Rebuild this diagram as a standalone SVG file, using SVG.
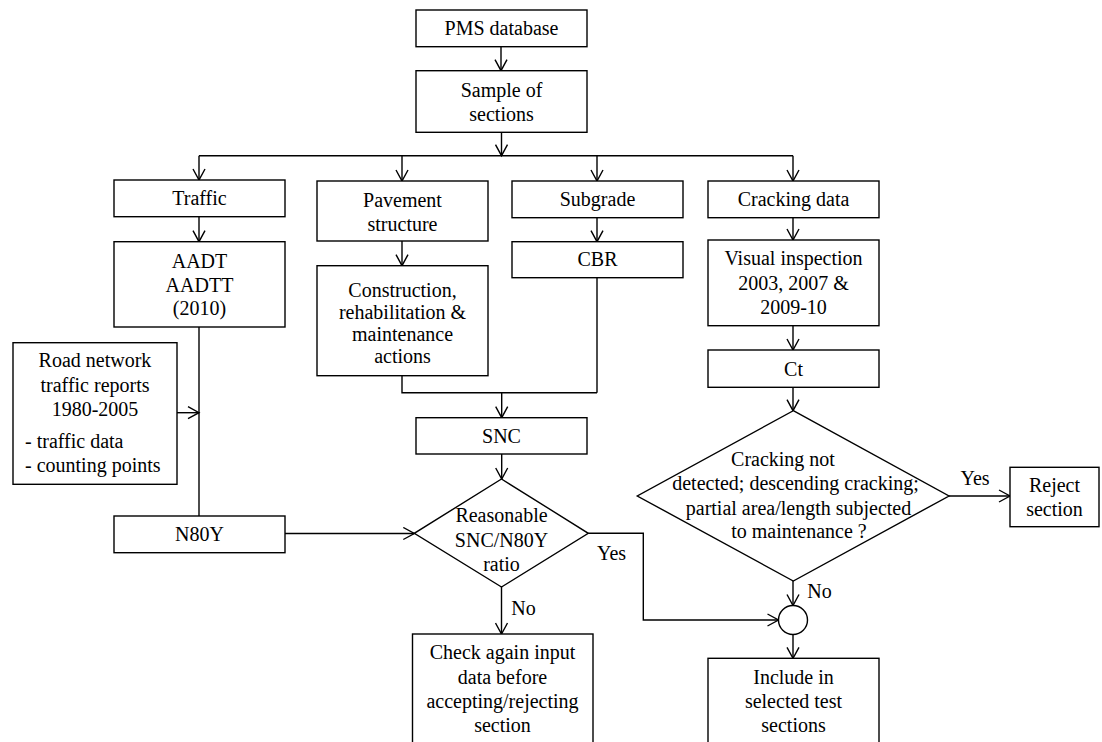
<svg xmlns="http://www.w3.org/2000/svg" width="1102" height="742" viewBox="0 0 1102 742">
<defs>
<style>
.box{fill:#fff;stroke:#000;stroke-width:1.4}
.ln{fill:none;stroke:#000;stroke-width:1.4}
text{font-family:"Liberation Serif","Times New Roman",serif;font-size:20px;fill:#000;text-anchor:middle}
.l{text-anchor:start}
</style>
<marker id="ah" markerUnits="userSpaceOnUse" markerWidth="14" markerHeight="14" viewBox="-12 -7 14 14" refX="0" refY="0" orient="auto">
<path d="M-11,-6 L0,0 L-11,6" fill="none" stroke="#000" stroke-width="1.4"/>
</marker>
</defs>
<rect width="1102" height="742" fill="#fff"/>
<g id="connectors">
<path class="ln" d="M501,46.7 V70.7" marker-end="url(#ah)"/>
<path class="ln" d="M501.5,132.3 V155.7" marker-end="url(#ah)"/>
<path class="ln" d="M199,155.7 H793"/>
<path class="ln" d="M199,155.7 V180" marker-end="url(#ah)"/>
<path class="ln" d="M402,155.7 V181" marker-end="url(#ah)"/>
<path class="ln" d="M597,155.7 V181" marker-end="url(#ah)"/>
<path class="ln" d="M793,155.7 V181" marker-end="url(#ah)"/>
<path class="ln" d="M199,216.7 V241.7" marker-end="url(#ah)"/>
<path class="ln" d="M402,241 V265.7" marker-end="url(#ah)"/>
<path class="ln" d="M597,217.7 V241.7" marker-end="url(#ah)"/>
<path class="ln" d="M793,217.7 V240" marker-end="url(#ah)"/>
<path class="ln" d="M793,325.7 V350" marker-end="url(#ah)"/>
<path class="ln" d="M793,387.3 V410.7" marker-end="url(#ah)"/>
<path class="ln" d="M199,327 V516"/>
<path class="ln" d="M177,412.7 H199" marker-end="url(#ah)"/>
<path class="ln" d="M402,375.7 V392.7 H597"/>
<path class="ln" d="M597,277.7 V392.7"/>
<path class="ln" d="M501.7,392.7 V417.7" marker-end="url(#ah)"/>
<path class="ln" d="M501.7,454 V479" marker-end="url(#ah)"/>
<path class="ln" d="M285,533.5 H414.3" marker-end="url(#ah)"/>
<path class="ln" d="M501.5,587 V634" marker-end="url(#ah)"/>
<path class="ln" d="M588.3,533.3 H643.3 V620 H778.5" marker-end="url(#ah)"/>
<path class="ln" d="M793,581 V605.5" marker-end="url(#ah)"/>
<path class="ln" d="M949,496 H1010" marker-end="url(#ah)"/>
<path class="ln" d="M793,634.5 V658.3" marker-end="url(#ah)"/>
<text x="611.5" y="560">Yes</text>
<text x="523.5" y="615">No</text>
<text x="975" y="485">Yes</text>
<text x="819.5" y="598.3">No</text>
</g>
<g id="pms"><rect class="box" x="416" y="10" width="171" height="36.7"/><text x="501.5" y="35">PMS database</text></g>
<g id="sample"><rect class="box" x="416" y="70.7" width="171" height="61.6"/><text x="501.5" y="96.7">Sample of</text><text x="501.5" y="120.7">sections</text></g>
<g id="traffic"><rect class="box" x="114" y="180" width="171" height="36.7"/><text x="199.5" y="205">Traffic</text></g>
<g id="pavement"><rect class="box" x="317" y="181" width="171" height="60"/><text x="402.5" y="206.7">Pavement</text><text x="402.5" y="230.7">structure</text></g>
<g id="subgrade"><rect class="box" x="512" y="181" width="171" height="36.7"/><text x="597.5" y="206">Subgrade</text></g>
<g id="cracking"><rect class="box" x="708" y="181" width="171" height="36.7"/><text x="793.5" y="206">Cracking data</text></g>
<g id="aadt"><rect class="box" x="114" y="241.7" width="171" height="85.3"/><text x="199.5" y="267.7">AADT</text><text x="199.5" y="291.7">AADTT</text><text x="199.5" y="315">(2010)</text></g>
<g id="construction"><rect class="box" x="317" y="265.7" width="171" height="110"/><text x="402.5" y="296.7">Construction,</text><text x="402.5" y="318.7">rehabilitation &amp;</text><text x="402.5" y="340.7">maintenance</text><text x="402.5" y="362.7">actions</text></g>
<g id="cbr"><rect class="box" x="512" y="241.7" width="171" height="36"/><text x="597.5" y="266">CBR</text></g>
<g id="visual"><rect class="box" x="708" y="240" width="171" height="85.7"/><text x="793.5" y="265">Visual inspection</text><text x="793.5" y="290">2003, 2007 &amp;</text><text x="793.5" y="314">2009-10</text></g>
<g id="ct"><rect class="box" x="708" y="350" width="171" height="37.3"/><text x="793.5" y="375.5">Ct</text></g>
<g id="road"><rect class="box" x="13" y="342.7" width="164" height="141.6"/><text x="95" y="366.7">Road network</text><text x="95" y="391.7">traffic reports</text><text x="95" y="415.7">1980-2005</text><text class="l" x="25" y="448">- traffic data</text><text class="l" x="25" y="471.7">- counting points</text></g>
<g id="snc"><rect class="box" x="416" y="417.7" width="171" height="36.3"/><text x="501.5" y="442.5">SNC</text></g>
<g id="n80y"><rect class="box" x="114" y="516" width="171" height="36.7"/><text x="199.5" y="541">N80Y</text></g>
<g id="ratio"><polygon class="box" points="501.5,479 588.3,533.3 501.5,587 414.3,533.3"/><text x="501.5" y="521.7">Reasonable</text><text x="501.5" y="546.7">SNC/N80Y</text><text x="501.5" y="570.7">ratio</text></g>
<g id="crackq"><polygon class="box" points="793.3,410.7 949,496 793.3,581 637.3,496"/><text x="783" y="466">Cracking not</text><text x="795.5" y="490">detected; descending cracking;</text><text x="798.5" y="515">partial area/length  subjected</text><text x="799" y="538.3">to maintenance  ?</text></g>
<g id="reject"><rect class="box" x="1010" y="467.3" width="89" height="59.4"/><text x="1054.5" y="491.7">Reject</text><text x="1054.5" y="516">section</text></g>
<g id="join"><circle class="box" cx="793" cy="620" r="14.5"/></g>
<g id="check"><rect class="box" x="412.5" y="634" width="180.5" height="120"/><text x="502.5" y="659">Check again input</text><text x="502.5" y="684.3">data before</text><text x="502.5" y="708.3">accepting/rejecting</text><text x="502.5" y="731.7">section</text></g>
<g id="include"><rect class="box" x="708" y="658.3" width="171" height="100"/><text x="793.5" y="684">Include in</text><text x="793.5" y="708.3">selected test</text><text x="793.5" y="732.3">sections</text></g>
</svg>
